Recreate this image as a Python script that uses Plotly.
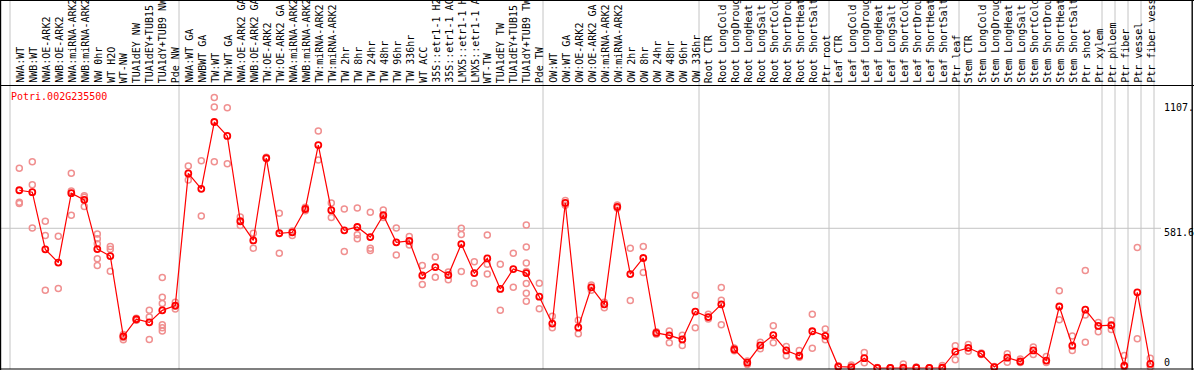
import plotly.graph_objects as go

# ---------------- data ----------------
gene = "Potri.002G235500"

categories = [
    "NWA:WT", "NWB:WT", "NWA:OE-ARK2", "NWB:OE-ARK2", "NWA:miRNA-ARK2", "NWB:miRNA-ARK2",
    "NW 0hr", "WT H2O", "WT-NW", "TUA1dEY NW", "TUA1dEY+TUB15 NW", "TUA1dY+TUB9 NW", "Pde NW",
    "NWA:WT GA", "NWBWT GA", "TW:WT", "TW:WT GA", "NWA:OE-ARK2 GA", "NWB:OE-ARK2 GA",
    "TW:OE-ARK2", "TW:OE-ARK2 GA", "NWA:miRNA-ARK2 GA", "NWB:miRNA-ARK2 GA", "TW:miRNA-ARK2",
    "TW:miRNA-ARK2 GA", "TW 2hr", "TW 8hr", "TW 24hr", "TW 48hr", "TW 96hr", "TW 336hr",
    "WT ACC", "35S::etr1-1 H2O", "35S::etr1-1 ACC", "LMX5::etr1-1 H2O", "LMX5::etr1-1 ACC",
    "WT-TW", "TUA1dEY TW", "TUA1dEY+TUB15 TW", "TUA1dY+TUB9 TW", "Pde TW",
    "OW:WT", "OW:WT GA", "OW:OE-ARK2", "OW:OE-ARK2 GA", "OW:miRNA-ARK2", "OW:miRNA-ARK2 GA",
    "OW 2hr", "OW 8hr", "OW 24hr", "OW 48hr", "OW 96hr", "OW 336hr",
    "Root CTR", "Root LongCold", "Root LongDrought", "Root LongHeat", "Root LongSalt",
    "Root ShortCold", "Root ShortDrought", "Root ShortHeat", "Root ShortSalt", "Ptr root",
    "Leaf CTR", "Leaf LongCold", "Leaf LongDrought", "Leaf LongHeat", "Leaf LongSalt",
    "Leaf ShortCold", "Leaf ShortDrought", "Leaf ShortHeat", "Leaf ShortSalt", "Ptr leaf",
    "Stem CTR", "Stem LongCold", "Stem LongDrought", "Stem LongHeat", "Stem LongSalt",
    "Stem ShortCold", "Stem ShortDrought", "Stem ShortHeat", "Stem ShortSalt", "Ptr shoot",
    "Ptr xylem", "Ptr phloem", "Ptr fiber", "Ptr vessel", "Ptr fiber vessel",
]

means = [
    740, 732, 494, 439, 728, 700, 495, 466, 132, 203, 190, 240, 260,
    810, 746, 1024, 966, 611, 531, 874, 561, 565, 662, 928, 657, 573, 587, 545,
    636, 523, 529, 385, 420, 387, 516, 395, 456, 329, 412, 395, 297,
    185, 687, 169, 336, 265, 671, 391, 458, 146, 136, 119, 235,
    212, 265, 77, 22, 94, 137, 73, 51, 153, 134,
    6, 4, 41, 0, 0, 1, 1, 0, 1, 68,
    84, 59, 4, 43, 27, 73, 31, 256, 93, 243, 175,
    178, 10, 315, 17,
]

replicates = [
    [832, 690, 685], [859, 763, 583], [611, 552, 324], [548, 331], [811, 737, 636],
    [717, 711, 672], [558, 538, 517, 455, 427], [506, 494, 403], [139, 127, 118],
    [207, 201, 199], [240, 212, 119], [377, 295, 268, 180, 168, 154], [274, 257, 246],
    [841, 783], [863, 633], [1126, 1087, 859], [1083, 850], [629, 593], [561, 499],
    [877, 871], [644, 478], [570, 552], [669, 655], [987, 866], [687, 627], [662, 485],
    [666, 555, 538], [648, 498, 489], [658, 627], [583, 470], [547, 512], [427, 348],
    [462, 378], [400, 367], [582, 556, 402], [442, 353], [554, 432, 391], [432, 240],
    [478, 336], [595, 504, 437, 402, 352, 311, 278], [353, 247],
    [215, 168], [697, 678], [199, 143], [346, 324], [274, 251], [679, 665], [498, 281],
    [506, 398], [151, 140], [154, 105], [136, 94], [303, 168],
    [224, 204], [335, 282, 180], [83, 72], [29, 15], [107, 80], [176, 105], [90, 51],
    [73, 45], [224, 82], [162, 118],
    [9, 4], [13, 1], [65, 22], [2, 0], [1, 0], [17, 0], [4, 0], [1, 0], [10, 0], [93, 34],
    [98, 70], [62, 56], [6, 2], [59, 24], [37, 23], [87, 56], [48, 23], [322, 201],
    [133, 73], [406, 221, 107], [189, 151],
    [199, 160], [52, 4], [502, 122], [41, 4],
]

group_starts = [0, 13, 41, 53, 63, 73, 84, 85, 86, 87, 88]
y_tick_vals = [0, 581.6, 1107]
y_tick_text = ["0", "581.6", "1107."]

# ---------------- layout geometry ----------------
W, H = 1194, 370
X0_PX, DX_PX = 19.3, 13.0      # pixel of first category centre, pixel step
Y0_PX, VPP = 368.0, 4.163      # pixel of value 0, value units per pixel
x_range = [(0 - X0_PX) / DX_PX, (W - X0_PX) / DX_PX]
y_range = [(Y0_PX - H) * VPP, Y0_PX * VPP]
MONO = "DejaVu Sans Mono"
RED = "#ff0000"
REP = "#f09090"
GRID = "#c4c4c4"


def py(px):
    return 1 - px / H


def pxx(px):
    return px / W


xs = list(range(len(categories)))
rep_x, rep_y = [], []
for i, vals in enumerate(replicates):
    for v in vals:
        rep_x.append(i)
        rep_y.append(v)

fig = go.Figure()
fig.add_trace(go.Scatter(
    x=rep_x, y=rep_y, mode="markers",
    marker=dict(symbol="circle-open", size=6, color=REP, line=dict(width=1.5, color=REP)),
    hoverinfo="skip", showlegend=False,
))
fig.add_trace(go.Scatter(
    x=xs, y=means, mode="lines+markers",
    line=dict(color=RED, width=1.2),
    marker=dict(symbol="circle-open", size=6, color=RED, line=dict(width=1.8, color=RED)),
    hoverinfo="skip", showlegend=False,
))

shapes = []
for g in group_starts:
    shapes.append(dict(type="line", xref="x", yref="paper", x0=g - 0.715, x1=g - 0.715,
                       y0=py(369), y1=1, line=dict(color=GRID, width=1), layer="below"))
shapes.append(dict(type="line", xref="paper", yref="y", x0=0, x1=pxx(1161),
                   y0=y_tick_vals[1], y1=y_tick_vals[1], line=dict(color=GRID, width=1), layer="below"))
# black frame and header separator
for ypx in (0.5, 85.5, 369.0):
    shapes.append(dict(type="line", xref="paper", yref="paper", x0=0, x1=1, y0=py(ypx), y1=py(ypx),
                       line=dict(color="black", width=1.2)))
for xpx in (0.5, 1192.2):
    shapes.append(dict(type="line", xref="paper", yref="paper", x0=pxx(xpx), x1=pxx(xpx), y0=0, y1=1,
                       line=dict(color="black", width=1.4)))

annotations = []
for i, name in enumerate(categories):
    annotations.append(dict(
        x=i, y=py(83), xref="x", yref="paper", text=name, textangle=-90,
        xanchor="center", yanchor="bottom", showarrow=False, xshift=0.5,
        font=dict(family=MONO, size=10, color="black"), borderpad=0, borderwidth=0,
    ))
shifts = [5.5, -4, -5]
for v, t, s in zip(y_tick_vals, y_tick_text, shifts):
    annotations.append(dict(
        x=pxx(1162), y=v, xref="paper", yref="y", text=t, xanchor="left", yanchor="middle",
        yshift=s, showarrow=False, font=dict(family=MONO, size=10, color="black"),
    ))
annotations.append(dict(
    x=pxx(9), y=py(96.7), xref="paper", yref="paper", text=gene, xanchor="left",
    yanchor="middle", showarrow=False, font=dict(family=MONO, size=10, color=RED),
))

fig.update_layout(
    width=W, height=H, autosize=False,
    margin=dict(l=0, r=0, t=0, b=0, pad=0),
    paper_bgcolor="white", plot_bgcolor="white",
    xaxis=dict(range=x_range, visible=False, fixedrange=True),
    yaxis=dict(range=y_range, visible=False, fixedrange=True),
    shapes=shapes, annotations=annotations,
    showlegend=False, hovermode=False,
)

fig.write_html(
    "out.html",
    config={"displayModeBar": False, "staticPlot": True},
    post_script="document.body.style.margin='0';document.body.style.overflow='hidden';",
)
